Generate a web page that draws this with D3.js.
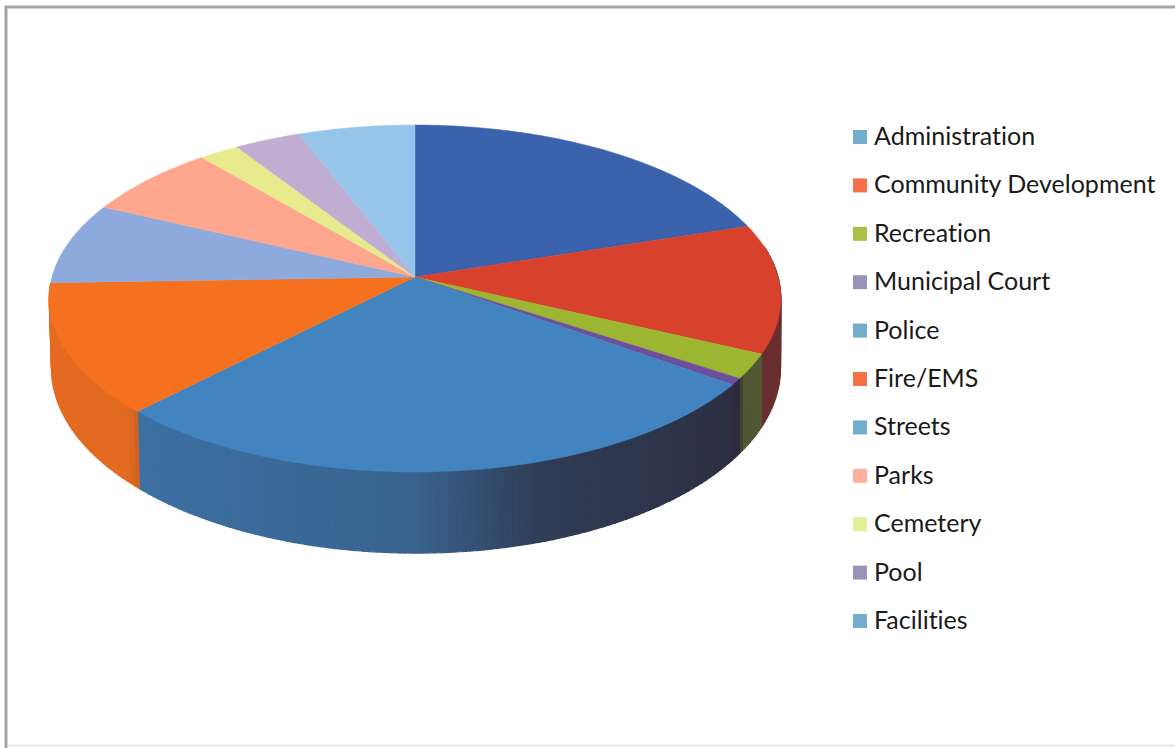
<!DOCTYPE html>
<html>
<head>
<meta charset="utf-8">
<script src="https://cdn.jsdelivr.net/npm/d3@7"></script>
<style>
  html, body { margin: 0; padding: 0; background: #fff; }
  svg { display: block; }
  text { font-family: Lato, "Open Sans", sans-serif; fill: #1a1a1a; font-variant-ligatures: none; }
</style>
</head>
<body>
<svg id="chart" width="1175" height="748"></svg>
<script>
// Budget share by department, percent
const categories = ["Administration", "Community Development", "Recreation", "Municipal Court",
  "Police", "Fire/EMS", "Streets", "Parks", "Cemetery", "Pool", "Facilities"];
const shares = [20.0, 12.0, 2.3, 0.6, 27.3, 12.2, 7.6, 6.8, 2.0, 3.3, 5.8];
const faceColors = ["#3b63ad", "#d8412b", "#9cb632", "#6d4f9e", "#4184bf", "#f6711f",
  "#8eaadd", "#ffa68e", "#e8ea8e", "#c0aed2", "#97c5e9"];
const legendColors = ["#72aecb", "#f66f47", "#aabf45", "#9b92b9", "#72aecb", "#f66f47",
  "#72aecb", "#ffb09c", "#e2ef94", "#9b92b9", "#72aecb"];

const svg = d3.select("#chart");

// Chart frame: only the top, left and faint bottom edges show
const frame = svg.append("g").attr("fill", "none");
frame.append("path").attr("d", "M6,748V7H1175").attr("stroke", "#a4a4a4").attr("stroke-width", 3);
frame.append("path").attr("d", "M8,745.5H1175").attr("stroke", "#e8e8e8").attr("stroke-width", 2);

// Perspective discs for the tilted pie: the near side is drawn larger than the far side
const topDisc = { cx: 415, cy: 277, rx: 363, ry: 170.8, k: 0.124 };
const baseDisc = { cx: 416, cy: 345.1, rx: 361.7, ry: 182.2, k: 0.124 };
function project(disc, angle) {
  const c = Math.sin(angle), s = -Math.cos(angle), w = 1 - disc.k * s;
  return [disc.cx + disc.rx * c / w, disc.cy + disc.ry * s / w];
}

const slices = d3.pie().sort(null).value(d => d)(shares);
const faceColor = d3.scaleOrdinal(d3.range(categories.length), faceColors);
const legendColor = d3.scaleOrdinal(d3.range(categories.length), legendColors);
const line = d3.line();
const step = Math.PI / 180;

// Only the near part of the rim can be seen from above
const rimFrom = 80 * step, rimTo = 268.5 * step;

// Rim lighting falls off from the left of the pie towards the right
const shade = d3.scaleLinear()
  .domain([-1, -0.72, -0.7, 0, 0.3, 0.835, 0.84, 1])
  .range([0.08, 0.1, 0.2, 0.35, 0.75, 0.9, 0.66, 0.62])
  .clamp(true);
const rim = svg.append("g");
slices.forEach((sl, i) => {
  const n = Math.max(1, Math.ceil((sl.endAngle - sl.startAngle) / step));
  const cuts = d3.range(n + 1).map(j => sl.startAngle + (sl.endAngle - sl.startAngle) * j / n);
  d3.pairs(cuts).forEach(([a, b]) => {
    const mid = (a + b) / 2;
    if (mid < rimFrom || mid > rimTo) return;
    const col = d3.interpolateRgb(faceColor(i), "#2a2533")(shade(Math.sin(mid)));
    rim.append("path")
      .attr("d", line([project(topDisc, a), project(topDisc, b), project(baseDisc, b), project(baseDisc, a)]) + "Z")
      .attr("fill", col).attr("stroke", col).attr("stroke-width", 1.2);
  });
});

// Top faces of the slices
const faces = svg.append("g");
slices.forEach((sl, i) => {
  const n = Math.max(2, Math.ceil((sl.endAngle - sl.startAngle) / step));
  const arcPts = d3.range(n + 1).map(j => project(topDisc, sl.startAngle + (sl.endAngle - sl.startAngle) * j / n));
  faces.append("path")
    .attr("d", line([[topDisc.cx, topDisc.cy], ...arcPts]) + "Z")
    .attr("fill", faceColor(i)).attr("stroke", faceColor(i)).attr("stroke-width", 0.5);
});

// Legend column
const rowY = d3.scalePoint().domain(categories).range([137, 621]);
const legend = svg.append("g");
categories.forEach((name, i) => {
  const y = rowY(name);
  legend.append("rect").attr("x", 853).attr("y", y - 7).attr("width", 14).attr("height", 14)
    .attr("fill", legendColor(i));
  legend.append("text").attr("x", 874).attr("y", y + 8).attr("font-size", 25).text(name);
});
</script>
</body>
</html>
